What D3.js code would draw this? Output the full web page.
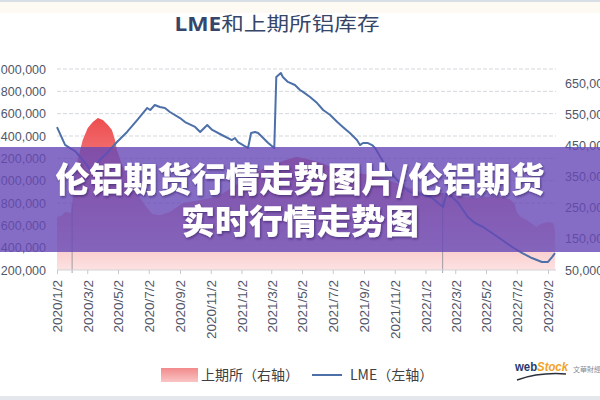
<!DOCTYPE html>
<html>
<head>
<meta charset="utf-8">
<script src="https://cdn.jsdelivr.net/npm/d3@7"></script>
<style>
html, body {margin: 0; padding: 0; background: #fff;}
svg {display: block;}
</style>
</head>
<body>
<div id="app"></div>
<script>
// LME (left axis) and SHFE (right axis) aluminium stocks.
var lmeDates = ["2020-01-02","2020-01-18","2020-01-28","2020-02-07","2020-02-17","2020-02-27","2020-03-11","2020-03-27",
	"2020-04-12","2020-04-30","2020-05-20","2020-06-09","2020-06-29","2020-07-05","2020-07-14","2020-07-24","2020-08-03",
	"2020-08-13","2020-09-02","2020-09-12","2020-10-02","2020-10-12","2020-10-22","2020-10-26","2020-11-05","2020-11-24",
	"2020-12-14","2020-12-20","2020-12-26","2021-01-05","2021-01-15","2021-01-21","2021-01-29","2021-02-04","2021-02-14",
	"2021-02-24","2021-03-08","2021-03-12","2021-03-21","2021-03-25","2021-04-04","2021-04-18","2021-04-28","2021-05-04",
	"2021-05-18","2021-06-01","2021-06-13","2021-06-27","2021-07-11","2021-07-22","2021-08-05","2021-08-19","2021-08-25",
	"2021-08-31","2021-09-10","2021-09-18","2021-09-24","2021-10-08","2021-10-20","2021-11-07","2021-11-19","2021-12-02",
	"2021-12-22","2022-01-13","2022-01-27","2022-02-06","2022-02-13","2022-02-24","2022-03-08","2022-03-27","2022-04-10",
	"2022-04-26","2022-05-14","2022-06-03","2022-06-23","2022-07-13","2022-08-01","2022-08-21","2022-09-02","2022-09-10",
	"2022-09-16"];
var lmeValues = [2480000,2320000,2292000,2265000,2212000,2158000,2078000,2185000,
	2257000,2346000,2436000,2543000,2651000,2633000,2678000,2660000,2651000,
	2615000,2561000,2525000,2481000,2436000,2481000,2498000,2454000,2409000,
	2364000,2382000,2346000,2319000,2292000,2427000,2436000,2427000,2382000,
	2337000,2292000,2928000,2964000,2928000,2884000,2857000,2812000,2795000,
	2749000,2695000,2633000,2588000,2525000,2481000,2427000,2364000,2319000,
	2337000,2337000,2319000,2292000,2185000,2095000,2006000,1943000,1898000,
	1881000,1854000,1800000,1764000,1889000,1854000,1800000,1675000,1621000,
	1585000,1531000,1469000,1406000,1352000,1307000,1272000,1272000,1316000,
	1352000];

var shfeDates = ["2020-01-02","2020-01-12","2020-01-18","2020-01-30","2020-02-05","2020-02-12","2020-02-22","2020-03-03",
	"2020-03-13","2020-03-23","2020-04-02","2020-04-12","2020-04-20","2020-04-26","2020-04-30","2020-05-10","2020-05-22",
	"2020-06-01","2020-06-15","2020-06-29","2020-07-09","2020-07-24","2020-08-13","2020-09-08","2020-10-12","2020-11-14",
	"2020-12-16","2021-01-19","2021-02-21","2021-03-25","2021-04-21","2021-05-20","2021-06-10","2021-07-01","2021-07-25",
	"2021-08-20","2021-09-15","2021-10-10","2021-11-05","2021-12-01","2021-12-25","2022-01-20","2022-02-10","2022-03-01",
	"2022-03-20","2022-04-10","2022-05-01","2022-05-20","2022-06-05","2022-06-20","2022-06-28","2022-07-02","2022-07-10",
	"2022-07-25","2022-08-10","2022-08-20","2022-09-02","2022-09-12","2022-09-16"];
var shfeValues = [220000,226000,236000,233000,322000,403000,467000,506000,
	525000,538000,531000,515000,499000,467000,435000,387000,345000,
	313000,281000,249000,230000,226000,236000,265000,275000,284000,
	316000,355000,380000,400000,413000,403000,393000,380000,371000,
	361000,355000,345000,329000,313000,300000,297000,297000,291000,
	284000,281000,284000,287000,284000,275000,262000,236000,220000,
	207000,188000,198000,204000,201000,178000];

// Holiday breaks in the SHFE series (thin dark lines through the area).
var gapDates = ["2020-02-01", "2022-02-05"];

var tickDates = ["2020-01-02","2020-03-02","2020-05-02","2020-07-02","2020-09-02","2020-11-02","2021-01-02","2021-03-02",
	"2021-05-02","2021-07-02","2021-09-02","2021-11-02","2022-01-02","2022-03-02","2022-05-02","2022-07-02","2022-09-02"];
var leftTicks = [1200000,1400000,1600000,1800000,2000000,2200000,2400000,2600000,2800000,3000000];
var rightTicks = [50000,150000,250000,350000,450000,550000,650000];

var titleParts = ["LME", "和上期所铝库存"];
var legendLabels = ["上期所（右轴）", "LME（左轴）"];
var bannerLines = ["伦铝期货行情走势图片/伦铝期货", "实时行情走势图"];

var width = 600, height = 400;
var plot = {left: 57, right: 556, top: 69, bottom: 270};
var lmeColor = "#4d70a8";
var labelColor = "#505668";

var parse = d3.timeParse("%Y-%m-%d");
var fmt = d3.timeFormat("%Y/%-m/%-d");

var lme = lmeDates.map(function (d, i) {return {date: parse(d), value: lmeValues[i]};});
var shfe = shfeDates.map(function (d, i) {return {date: parse(d), value: shfeValues[i]};});

var x = d3.scaleTime()
	.domain([parse(tickDates[0]), parse(tickDates[tickDates.length - 1])])
	.range([57, 548]);
var yLeft = d3.scaleLinear().domain([1200000, 3000000]).range([plot.bottom, plot.top]);
var yRight = d3.scaleLinear().domain([50000, 650000]).range([plot.bottom, 83]);

var svg = d3.select("#app").append("svg")
	.attr("width", width).attr("height", height);

var defs = svg.append("defs");
var grad = defs.append("linearGradient").attr("id", "shfe-grad")
	.attr("gradientUnits", "userSpaceOnUse")
	.attr("x1", 0).attr("x2", 0).attr("y1", 115).attr("y2", plot.bottom);
grad.append("stop").attr("offset", 0).attr("stop-color", "#ee4a4c");
grad.append("stop").attr("offset", 0.45).attr("stop-color", "#f38c8e");
grad.append("stop").attr("offset", 1).attr("stop-color", "#fde2e2");

var legGrad = defs.append("linearGradient").attr("id", "leg-grad")
	.attr("x1", 0).attr("x2", 0).attr("y1", 0).attr("y2", 1);
legGrad.append("stop").attr("offset", 0).attr("stop-color", "#f28a8c");
legGrad.append("stop").attr("offset", 1).attr("stop-color", "#f9c4c4");

var shadow = defs.append("filter").attr("id", "txt-shadow")
	.attr("x", "-10%").attr("y", "-30%").attr("width", "120%").attr("height", "160%");
shadow.append("feDropShadow").attr("dx", 1).attr("dy", 1.5).attr("stdDeviation", 1.2)
	.attr("flood-color", "#2a1850").attr("flood-opacity", 0.55);

// Page frame strips.
svg.append("rect").attr("x", 0).attr("y", 0).attr("width", width).attr("height", 2).attr("fill", "#d8dee6");
svg.append("rect").attr("x", 0).attr("y", 2).attr("width", width).attr("height", 11).attr("fill", "#fdf9f3");
svg.append("rect").attr("x", 0).attr("y", 396).attr("width", width).attr("height", 4).attr("fill", "#e4e7eb");

// Title.
var title = svg.append("text")
	.attr("x", 277).attr("y", 31)
	.attr("text-anchor", "middle")
	.attr("textLength", 205).attr("lengthAdjust", "spacingAndGlyphs")
	.attr("fill", "#36466a")
	.style("font-family", "'Noto Sans CJK SC', sans-serif")
	.style("font-size", "19px");
title.append("tspan").style("font-weight", "bold").style("font-family", "'Open Sans', sans-serif").text(titleParts[0]);
title.append("tspan").text(titleParts[1]);

// Gridlines on the left axis ticks.
svg.append("g").selectAll("line")
	.data(leftTicks.slice(1))
	.join("line")
	.attr("x1", plot.left).attr("x2", plot.right)
	.attr("y1", function (d) {return yLeft(d);}).attr("y2", function (d) {return yLeft(d);})
	.attr("stroke", "#d4d7dc").attr("stroke-width", 1).attr("stroke-dasharray", "4,2");

// SHFE area (right axis).
var area = d3.area()
	.x(function (d) {return x(d.date);})
	.y0(plot.bottom)
	.y1(function (d) {return yRight(d.value);});
svg.append("path").datum(shfe)
	.attr("d", area)
	.attr("fill", "url(#shfe-grad)");

// Holiday break lines.
var bis = d3.bisector(function (d) {return d.date;}).left;
function shfeAt (date)
{
	var i = Math.max(1, Math.min(shfe.length - 1, bis(shfe, date)));
	var a = shfe[i - 1], b = shfe[i];
	var t = (date - a.date) / (b.date - a.date);
	return a.value + (b.value - a.value) * t;
}
svg.append("g").selectAll("line")
	.data(gapDates.map(parse))
	.join("line")
	.attr("x1", function (d) {return x(d);}).attr("x2", function (d) {return x(d);})
	.attr("y1", function (d) {return yRight(shfeAt(d));}).attr("y2", plot.bottom + 3)
	.attr("stroke", "#7a7f88").attr("stroke-width", 1).attr("stroke-opacity", 0.7);

// LME line (left axis).
var line = d3.line()
	.x(function (d) {return x(d.date);})
	.y(function (d) {return yLeft(d.value);});
svg.append("path").datum(lme)
	.attr("d", line)
	.attr("fill", "none")
	.attr("stroke", lmeColor).attr("stroke-width", 2).attr("stroke-linejoin", "round");

// Bottom axis.
var xAxis = d3.axisBottom(x)
	.tickValues(tickDates.map(parse))
	.tickFormat(fmt)
	.tickSize(4)
	.tickSizeOuter(0);
var gx = svg.append("g").attr("transform", "translate(0," + plot.bottom + ")").call(xAxis);
gx.select(".domain").attr("d", "M" + plot.left + ",0H" + plot.right).attr("stroke", "#d0d3d8");
gx.selectAll(".tick line").attr("stroke", "#c4c8ce");
gx.selectAll(".tick text")
	.attr("transform", "rotate(-90)")
	.attr("x", -10).attr("y", 0).attr("dy", "0.36em")
	.attr("text-anchor", "end")
	.attr("fill", labelColor)
	.style("font-family", "'Liberation Sans', sans-serif")
	.style("font-size", "13.5px");

// Left axis labels (cut by the page edge as in the picture).
var yAxisL = d3.axisLeft(yLeft).tickValues(leftTicks).tickFormat(d3.format(",")).tickSize(0).tickPadding(0);
var gl = svg.append("g").attr("transform", "translate(46,0)").call(yAxisL);
gl.select(".domain").remove();
gl.selectAll("text").attr("fill", labelColor)
	.style("font-family", "'Liberation Sans', sans-serif").style("font-size", "12.5px");

// Right axis labels.
var yAxisR = d3.axisRight(yRight).tickValues(rightTicks).tickFormat(d3.format(",")).tickSize(0).tickPadding(0);
var gr = svg.append("g").attr("transform", "translate(565,0)").call(yAxisR);
gr.select(".domain").remove();
gr.selectAll("text").attr("fill", labelColor)
	.style("font-family", "'Liberation Sans', sans-serif").style("font-size", "12.5px");

// Legend.
var leg = svg.append("g").style("font-family", "'Noto Sans CJK SC', sans-serif").style("font-size", "14px");
leg.append("rect").attr("x", 161).attr("y", 368).attr("width", 37).attr("height", 14).attr("fill", "url(#leg-grad)");
leg.append("text").attr("x", 201).attr("y", 380).attr("fill", "#404040").text(legendLabels[0]);
leg.append("line").attr("x1", 312).attr("x2", 342).attr("y1", 375).attr("y2", 375)
	.attr("stroke", lmeColor).attr("stroke-width", 2);
leg.append("text").attr("x", 350).attr("y", 380).attr("fill", "#404040").text(legendLabels[1]);

// Watermark.
var wm = svg.append("g");
var wt = wm.append("text").attr("x", 515).attr("y", 371)
	.attr("textLength", 53).attr("lengthAdjust", "spacingAndGlyphs")
	.style("font-family", "'Liberation Sans', sans-serif").style("font-size", "13px").style("font-weight", "bold");
wt.append("tspan").attr("fill", "#1f3a70").text("web");
wt.append("tspan").attr("fill", "#f2a31f").style("font-style", "italic").text("Stock");
wm.append("path").attr("d", "M517,380 Q540,372 566,374")
	.attr("fill", "none").attr("stroke", "#2a2f3a").attr("stroke-width", 1.5);
wm.append("text").attr("x", 573).attr("y", 372)
	.attr("fill", "#8a8e96")
	.style("font-family", "'Noto Sans CJK TC', sans-serif").style("font-size", "7px")
	.text("文華財經");

// Purple banner over the chart.
svg.append("rect").attr("x", 0).attr("y", 147).attr("width", width).attr("height", 105)
	.attr("fill", "rgb(102,72,182)").attr("fill-opacity", 0.8);
svg.append("g").selectAll("text")
	.data(bannerLines)
	.join("text")
	.attr("x", 300)
	.attr("y", function (d, i) {return 192 + i * 42;})
	.attr("text-anchor", "middle")
	.attr("fill", "#ffffff")
	.attr("filter", "url(#txt-shadow)")
	.style("font-family", "'Noto Sans CJK SC', sans-serif")
	.style("font-weight", 900)
	.style("font-size", "34px")
	.text(function (d) {return d;});
</script>
</body>
</html>
